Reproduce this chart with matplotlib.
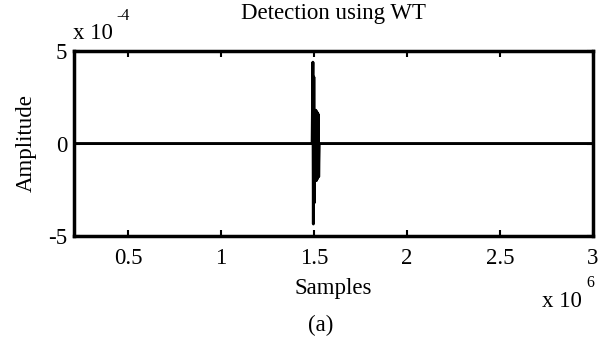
import matplotlib
matplotlib.use("Agg")
import matplotlib.pyplot as plt
from matplotlib.ticker import FuncFormatter

plt.rcParams['font.family'] = ['Liberation Serif', 'DejaVu Serif']

# Wavelet detail coefficients: flat everywhere except the burst near 1.5e6
sample_idx = [210000, 1490000, 1494000, 1496500, 1499000, 1501500, 1504000,
              1507000, 1510000, 1513000, 1516000, 1519000, 1522000, 1525000,
              1528000, 3000000]
amplitude = [0.0, 0.0, 4.4e-4, -4.35e-4, 3.6e-4, -3.2e-4, 1.8e-4,
             -2.0e-4, 1.8e-4, -2.0e-4, 1.7e-4, -1.9e-4, 1.6e-4, -1.8e-4,
             0.0, 0.0]

x_ticks = [0.5e6, 1.0e6, 1.5e6, 2.0e6, 2.5e6, 3.0e6]
y_ticks = [-5e-4, 0.0, 5e-4]

FS = 16.5

fig = plt.figure(figsize=(6.07, 3.43), dpi=100)
ax = fig.add_axes([0.122, 0.312, 0.855, 0.539])

ax.plot(sample_idx, amplitude, color='black', linewidth=2.1)

ax.set_xlim(2.1e5, 3.0e6)
ax.set_ylim(-5e-4, 5e-4)
ax.set_xticks(x_ticks)
ax.set_yticks(y_ticks)
ax.xaxis.set_major_formatter(FuncFormatter(lambda v, p: f"{v / 1e6:g}"))
ax.yaxis.set_major_formatter(FuncFormatter(lambda v, p: f"{round(v / 1e-4):d}"))

for s in ax.spines.values():
    s.set_linewidth(2.5)
ax.tick_params(direction='in', length=4, width=1.5, top=True, right=True,
               labelsize=FS)
ax.tick_params(axis='x', pad=9)
ax.tick_params(axis='y', pad=5)

ax.set_title('Detection using WT', fontsize=FS, pad=23)
ax.set_xlabel('Samples', fontsize=FS, labelpad=6)
ax.set_ylabel('Amplitude', fontsize=FS, labelpad=8)

# exponent annotations in the style of the axis multipliers
fig.text(0.120, 0.903, 'x 10', fontsize=FS, ha='left', va='center')
fig.text(0.192, 0.953, '-4', fontsize=11.5, ha='left', va='center')
fig.text(0.893, 0.120, 'x 10', fontsize=FS, ha='left', va='center')
fig.text(0.966, 0.175, '6', fontsize=11.5, ha='left', va='center')

fig.text(0.529, 0.050, '(a)', fontsize=FS, ha='center', va='center')

fig.savefig('out.png', dpi=100)
